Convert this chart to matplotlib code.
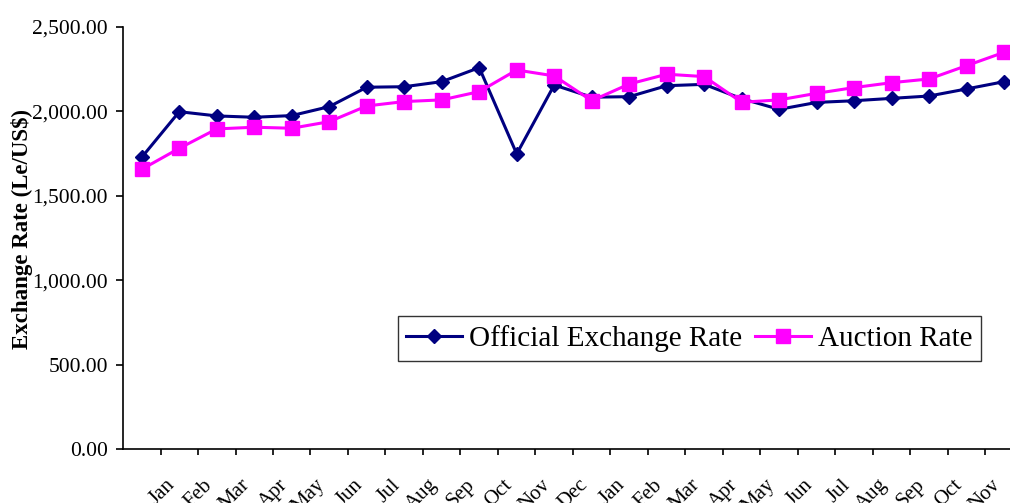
import matplotlib
matplotlib.use("Agg")
import matplotlib.pyplot as plt
from matplotlib.ticker import FuncFormatter, FixedLocator
from matplotlib.transforms import ScaledTranslation

plt.rcParams['font.family'] = ['Liberation Serif', 'DejaVu Serif']

MONTHS = ['Jan', 'Feb', 'Mar', 'Apr', 'May', 'Jun',
          'Jul', 'Aug', 'Sep', 'Oct', 'Nov', 'Dec']

# Category labels (first month carries no label on the axis)
month_labels = [''] + MONTHS + MONTHS[:11]

# Monthly rates in Le per US$
official_rate = [1728, 1998, 1973, 1965, 1975, 2028, 2143, 2146, 2176, 2259,
                 1748, 2156, 2084, 2087, 2152, 2160, 2075, 2012, 2053, 2063,
                 2077, 2091, 2133, 2176]
auction_rate = [1657, 1781, 1896, 1906, 1900, 1939, 2032, 2058, 2068, 2117,
                2245, 2210, 2063, 2162, 2220, 2206, 2054, 2068, 2107, 2141,
                2170, 2192, 2271, 2350]

x = list(range(len(month_labels)))

fig = plt.figure(figsize=(10.10, 5.03), dpi=100)
ax = fig.add_axes([0.1218, 0.1074, 0.891, 0.839])

ax.plot(x, official_rate, color='#000080', lw=2.2, marker='D', ms=7,
        label='Official Exchange Rate', clip_on=False)
ax.plot(x, auction_rate, color='#FF00FF', lw=2.2, marker='s', ms=10.5,
        label='Auction Rate', clip_on=False)

ax.set_xlim(-0.5, len(x) - 0.5)
ax.set_ylim(0, 2500)

for side in ('top', 'right'):
    ax.spines[side].set_visible(False)
for side in ('left', 'bottom'):
    ax.spines[side].set_linewidth(1.2)

ax.yaxis.set_major_locator(FixedLocator([0, 500, 1000, 1500, 2000, 2500]))
ax.yaxis.set_major_formatter(FuncFormatter(lambda v, p: f'{v:,.2f}'))
ax.tick_params(axis='y', direction='out', length=5, width=1.2, pad=6,
               labelsize=15.5)

# labels sit at the categories, tick marks between them
ax.set_xticks(x)
ax.set_xticklabels(month_labels, rotation=45, ha='right', va='center',
                   rotation_mode='anchor', fontsize=15)
ax.set_xticks([i + 0.5 for i in x], minor=True)
ax.tick_params(axis='x', which='major', length=0, pad=24)
ax.tick_params(axis='x', which='minor', direction='out', length=4, width=1.2)
shift = ScaledTranslation(-5 / 72, 0, fig.dpi_scale_trans)
for lbl in ax.get_xticklabels():
    lbl.set_transform(lbl.get_transform() + shift)

ax.set_ylabel('Exchange Rate (Le/US$)', fontsize=16.5, fontweight='bold')
ax.yaxis.set_label_coords(-0.1, 0.521)

leg = ax.legend(loc='center', bbox_to_anchor=(689.5 / 1010, 1 - 338.5 / 503),
                bbox_transform=fig.transFigure, ncol=2, fontsize=21,
                frameon=True, fancybox=False, edgecolor='black',
                handlelength=1.9, handletextpad=0.25, columnspacing=0.45,
                borderpad=0.3, borderaxespad=0)
leg.get_frame().set_linewidth(1.0)

fig.savefig('out.png', dpi=100)
